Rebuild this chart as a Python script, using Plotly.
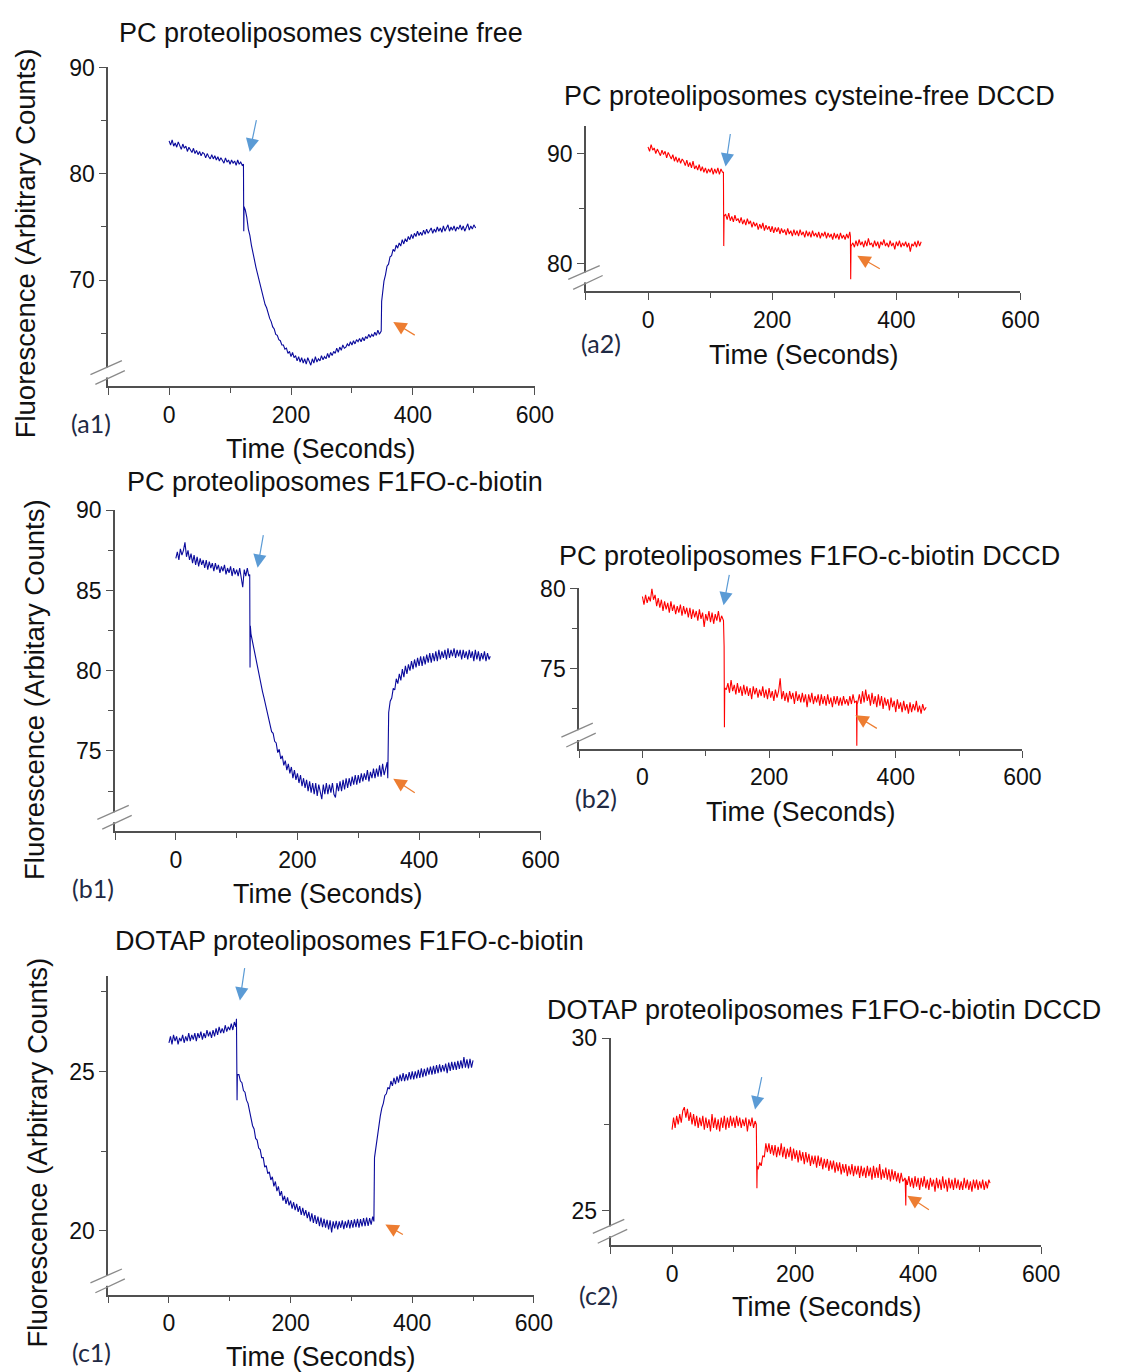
import plotly.graph_objects as go

# ---------------- DATA ----------------
STEP = 2.5  # sampling step (s) of the listed segment values

# (a1) PC proteoliposomes cysteine free
A1_STARTS = [0, 125, 350]
A1_SEG1 = [83.1, 82.7, 83.2, 82.6, 82.9, 82.5, 83.0, 82.7, 82.3, 82.8, 82.4, 82.6, 82.1, 82.5, 82.2, 82.0,
           82.4, 81.9, 82.2, 81.8, 82.1, 81.7, 82.0, 81.9, 81.5, 81.9, 81.6, 81.4, 81.8, 81.4, 81.7, 81.3,
           81.6, 81.2, 81.5, 81.3, 81.0, 81.5, 81.1, 81.3, 80.9, 81.3, 81.0, 81.2, 80.8, 81.3, 80.9, 81.1,
           80.8]
A1_SEG2 = [76.6, 75.9, 74.8, 74.2, 73.3, 72.5, 71.9, 71.2, 70.6, 70.0, 69.3, 68.9, 68.3, 67.7, 67.4, 66.8,
           66.4, 66.1, 65.6, 65.4, 64.9, 64.8, 64.4, 64.3, 63.9, 63.9, 63.5, 63.6, 63.1, 63.3, 62.8, 63.2,
           62.7, 62.9, 62.4, 62.8, 62.3, 62.7, 62.2, 62.6, 62.1, 62.7, 62.3, 62.0, 62.6, 62.2, 62.8, 62.3,
           62.6, 62.4, 62.9, 62.5, 62.8, 62.6, 63.1, 62.7, 63.2, 62.9, 63.3, 63.1, 63.6, 63.2, 63.7, 63.4,
           63.9, 63.6, 63.7, 64.0, 63.8, 64.2, 63.9, 64.3, 64.0, 64.4, 64.2, 64.5, 64.2, 64.6, 64.3, 64.7,
           64.5, 64.9, 64.6, 64.9, 64.7, 65.1, 64.8, 65.3, 64.9]
A1_SEG3 = [68.9, 69.9, 70.5, 71.3, 71.5, 72.2, 72.3, 72.9, 72.7, 73.3, 73.0, 73.5, 73.2, 73.8, 73.4, 73.9,
           73.6, 74.1, 73.8, 74.3, 73.9, 74.4, 74.1, 74.6, 74.2, 74.5, 74.2, 74.7, 74.3, 74.8, 74.4, 74.6,
           74.9, 74.4, 74.8, 74.5, 75.0, 74.6, 74.9, 74.5, 75.1, 74.6, 74.9, 75.2, 74.6, 75.0, 74.7, 75.1,
           74.6, 75.0, 74.8, 75.2, 74.7, 75.1, 74.6, 75.0, 75.3, 74.7, 75.1, 74.8, 75.2]
A1_EV_T = [[122, 122.5, 123], [348, 348.7], [503]]
A1_EV_V = [[80.9, 74.6, 76.9], [65.2, 68.0], [74.9]]

# (a2) PC proteoliposomes cysteine-free DCCD
A2_STARTS = [0, 125, 330]
A2_SEG1 = [90.6, 90.2, 90.8, 90.3, 90.5, 90.0, 90.4, 90.1, 89.8, 90.3, 89.9, 90.2, 89.6, 90.1, 89.7, 89.5,
           89.9, 89.3, 89.7, 89.2, 89.6, 89.1, 89.5, 89.3, 88.9, 89.4, 88.8, 89.2, 88.7, 89.3, 88.6, 88.9,
           88.5, 89.0, 88.4, 88.8, 88.3, 88.7, 88.2, 88.6, 88.3, 88.7, 88.1, 88.6, 88.2, 88.7, 88.1, 88.6,
           88.3]
A2_SEG2 = [84.5, 84.0, 84.6, 83.9, 84.3, 83.8, 84.4, 83.9, 84.1, 83.7, 84.2, 83.6, 84.0, 83.5, 84.1, 83.6,
           83.9, 83.3, 83.8, 83.4, 83.7, 83.1, 83.6, 83.2, 83.7, 83.0, 83.5, 83.1, 83.4, 82.9, 83.4, 82.8,
           83.3, 82.9, 83.3, 82.7, 83.2, 82.8, 83.1, 82.6, 83.2, 82.7, 83.0, 82.5, 83.1, 82.6, 83.0, 82.5,
           83.1, 82.6, 82.9, 82.4, 83.0, 82.5, 82.9, 82.4, 83.0, 82.5, 82.8, 82.4, 82.9, 82.3, 82.8, 82.5,
           82.9, 82.3, 82.8, 82.4, 82.7, 82.2, 82.8, 82.3, 82.7, 82.2, 82.8, 82.3, 82.6, 82.2, 82.7, 82.3,
           82.9]
A2_SEG3 = [81.9, 81.5, 82.1, 81.6, 82.2, 81.7, 82.0, 81.5, 82.1, 81.6, 82.3, 81.7, 81.9, 81.5, 82.1, 81.6,
           82.0, 81.4, 82.0, 81.7, 82.2, 81.6, 81.9, 81.5, 82.1, 81.6, 81.9, 81.3, 82.0, 81.6, 82.1, 81.5,
           81.9, 81.6, 82.0, 81.5, 81.9, 81.1, 81.8, 81.6, 82.0, 81.5, 82.1, 81.6, 82.0]
A2_EV_T = [[121.5, 122, 122.5], [326, 326.5, 327], []]
A2_EV_V = [[88.3, 81.6, 84.3], [82.5, 78.6, 81.6], []]

# (b1) PC proteoliposomes F1FO-c-biotin
B1_STARTS = [0, 125, 350]
B1_SEG1 = [87.0, 87.4, 86.9, 87.6, 87.2, 87.5, 88.0, 87.1, 87.5, 86.9, 87.3, 86.7, 87.2, 86.6, 87.1, 86.5,
           87.0, 86.6, 86.9, 86.4, 86.9, 86.3, 86.8, 86.4, 86.7, 86.2, 86.7, 86.3, 86.6, 86.1, 86.5, 86.2,
           86.6, 86.0, 86.4, 86.1, 86.5, 85.9, 86.4, 86.0, 86.3, 85.9, 86.4, 85.8, 85.2, 86.3, 85.9, 86.4,
           85.9]
B1_SEG2 = [82.0, 81.7, 81.1, 80.6, 80.0, 79.6, 79.1, 78.7, 78.3, 77.9, 77.5, 77.0, 76.8, 76.2, 76.1, 75.6,
           75.5, 74.9, 75.1, 74.5, 74.7, 74.1, 74.4, 73.8, 74.2, 73.6, 74.0, 73.3, 73.8, 73.2, 73.6, 73.0,
           73.5, 72.8, 73.3, 72.7, 73.2, 72.5, 73.1, 72.4, 73.0, 72.3, 73.0, 72.2, 72.9, 72.4, 72.0, 72.9,
           72.3, 73.0, 72.3, 72.9, 72.4, 73.0, 72.3, 72.1, 73.0, 72.5, 73.1, 72.5, 73.2, 72.6, 73.3, 72.7,
           73.3, 72.8, 73.4, 72.9, 73.5, 72.9, 73.5, 73.0, 73.6, 73.1, 73.6, 73.2, 73.8, 73.1, 73.7, 73.3,
           73.9, 73.3, 73.9, 73.4, 74.1, 73.4, 74.2, 73.5, 74.0]
B1_SEG3 = [77.4, 78.1, 78.3, 78.9, 78.8, 79.5, 79.2, 79.8, 79.4, 80.1, 79.6, 80.3, 79.8, 80.4, 80.0, 80.6,
           80.1, 80.7, 80.2, 80.8, 80.3, 80.9, 80.3, 80.9, 80.4, 81.0, 80.5, 81.1, 80.5, 81.1, 80.6, 81.2,
           80.6, 81.3, 80.7, 81.2, 80.8, 81.3, 80.7, 81.4, 80.8, 81.3, 80.9, 81.4, 80.8, 81.3, 80.9, 81.3,
           80.7, 81.3, 80.8, 81.2, 80.7, 81.3, 80.8, 81.2, 80.6, 81.3, 80.7, 81.2, 80.6, 81.1, 80.7, 81.2,
           80.6, 81.1, 80.7]
B1_EV_T = [[121.5, 122, 122.5, 123.5], [347.5, 348.5, 349], [517]]
B1_EV_V = [[86.0, 80.2, 82.8, 82.3], [74.3, 73.3, 77.0], [80.9]]

# (b2) PC proteoliposomes F1FO-c-biotin DCCD
B2_STARTS = [0, 132.5, 340]
B2_SEG1 = [79.5, 79.0, 79.6, 79.1, 79.5, 79.2, 80.0, 79.3, 79.6, 78.9, 79.4, 78.8, 79.3, 78.6, 79.2, 78.7,
           79.1, 78.5, 79.2, 78.6, 79.0, 78.4, 78.9, 78.5, 79.0, 78.3, 78.9, 78.4, 78.8, 78.2, 78.8, 78.1,
           78.7, 78.2, 78.6, 78.0, 78.7, 78.1, 78.5, 77.6, 78.4, 78.0, 78.6, 77.9, 78.5, 77.8, 78.4, 78.0,
           78.6, 77.9, 78.3]
B2_SEG2 = [73.7, 74.1, 73.5, 74.3, 73.6, 74.0, 73.4, 74.1, 73.5, 73.9, 73.3, 74.0, 73.4, 73.9, 73.3, 73.8,
           73.1, 73.9, 73.4, 73.8, 73.2, 73.7, 73.3, 73.9, 73.2, 73.7, 73.1, 73.8, 73.2, 73.6, 73.0, 73.7,
           73.2, 73.6, 74.4, 73.1, 73.6, 73.0, 73.5, 72.9, 73.6, 73.1, 73.5, 72.8, 73.6, 73.0, 73.4, 72.9,
           73.5, 72.9, 73.4, 72.6, 73.4, 72.9, 73.5, 72.8, 73.3, 72.9, 73.4, 72.7, 73.4, 72.8, 73.3, 72.7,
           73.4, 72.8, 73.2, 72.6, 73.3, 72.8, 73.3, 72.7, 73.2, 72.7, 73.3, 72.8, 73.1, 72.7, 73.3, 72.8,
           73.4, 72.9]
B2_SEG3 = [72.9, 73.4, 72.8, 73.6, 72.9, 73.7, 73.0, 73.4, 72.7, 73.5, 72.8, 73.3, 72.6, 73.4, 72.7, 73.3,
           72.5, 73.2, 72.7, 73.1, 72.4, 73.2, 72.6, 73.0, 72.3, 73.1, 72.5, 72.9, 72.3, 73.0, 72.4, 72.8,
           72.2, 72.9, 72.3, 72.8, 72.4, 73.0, 72.3, 72.7, 72.2, 72.8, 72.4]
B2_EV_T = [[128, 129, 129.5, 130], [338, 338.5, 339], [448]]
B2_EV_V = [[78.0, 76.4, 71.35, 73.8], [73.0, 70.2, 72.8], [72.6]]

# (c1) DOTAP proteoliposomes F1FO-c-biotin
C1_STARTS = [0, 115, 340]
C1_SEG1 = [25.9, 26.1, 25.85, 26.15, 25.95, 26.1, 25.85, 26.05, 25.95, 26.15, 25.9, 26.1, 25.95, 26.2,
           25.95, 26.15, 26.0, 26.2, 25.95, 26.2, 26.05, 26.25, 26.0, 26.2, 26.05, 26.3, 26.1, 26.25,
           26.05, 26.3, 26.1, 26.35, 26.15, 26.4, 26.2, 26.35, 26.2, 26.45, 26.25, 26.4, 26.3, 26.5,
           26.3, 26.55, 26.4]
C1_SEG2 = [24.9, 24.7, 24.65, 24.4, 24.35, 24.1, 24.0, 23.75, 23.6, 23.3, 23.2, 22.9, 22.85, 22.6, 22.55,
           22.3, 22.3, 22.0, 22.05, 21.8, 21.85, 21.6, 21.7, 21.4, 21.55, 21.25, 21.4, 21.1, 21.25, 20.95,
           21.1, 20.85, 21.05, 20.8, 20.95, 20.7, 20.9, 20.65, 20.85, 20.6, 20.78, 20.5, 20.72, 20.48,
           20.65, 20.4, 20.6, 20.3, 20.55, 20.25, 20.5, 20.22, 20.45, 20.15, 20.42, 20.12, 20.38, 20.1,
           20.35, 20.05, 20.33, 19.95, 20.3, 20.08, 20.32, 20.05, 20.3, 20.1, 20.33, 20.06, 20.3, 20.1,
           20.35, 20.08, 20.34, 20.1, 20.36, 20.12, 20.38, 20.1, 20.37, 20.14, 20.4, 20.15, 20.42, 20.16,
           20.4, 20.2, 20.45]
C1_SEG3 = [22.6, 23.0, 23.35, 23.6, 23.85, 24.0, 24.25, 24.3, 24.5, 24.45, 24.7, 24.55, 24.8, 24.6, 24.85,
           24.65, 24.9, 24.7, 24.95, 24.7, 24.92, 24.72, 24.98, 24.75, 25.0, 24.75, 25.0, 24.78, 25.05,
           24.8, 25.1, 24.82, 25.08, 24.85, 25.12, 24.9, 25.15, 24.9, 25.18, 24.92, 25.2, 24.95, 25.22,
           24.98, 25.2, 25.0, 25.25, 24.95, 25.28, 25.02, 25.3, 25.05, 25.3, 25.05, 25.33, 25.08, 25.35,
           25.1, 25.45, 25.12, 25.38, 25.1, 25.4, 25.12, 25.35]
C1_EV_T = [[111, 112, 112.5], [337, 338], []]
C1_EV_V = [[26.65, 24.1, 24.9], [20.3, 22.3], []]

# (c2) DOTAP proteoliposomes F1FO-c-biotin DCCD
C2_STARTS = [0, 140, 382.5]
C2_SEG1 = [27.35, 27.7, 27.4, 27.75, 27.5, 27.8, 27.55, 27.9, 28.0, 27.7, 27.95, 27.6, 27.85, 27.5, 27.8,
           27.45, 27.75, 27.4, 27.7, 27.45, 27.75, 27.35, 27.7, 27.4, 27.65, 27.3, 27.8, 27.4, 27.7,
           27.35, 27.65, 27.3, 27.7, 27.4, 27.75, 27.35, 27.7, 27.4, 27.75, 27.45, 27.7, 27.4, 27.75,
           27.45, 27.7, 27.4, 27.65, 27.45, 27.7, 27.3, 27.65, 27.45, 27.7, 27.4, 27.6]
C2_SEG2 = [26.2, 26.4, 26.3, 26.6, 26.55, 26.95, 26.7, 26.95, 26.65, 26.9, 26.6, 26.9, 26.55, 26.85, 26.6,
           26.95, 26.55, 26.85, 26.5, 26.8, 26.55, 26.85, 26.45, 26.8, 26.5, 26.75, 26.4, 26.75, 26.45,
           26.7, 26.35, 26.7, 26.4, 26.65, 26.3, 26.6, 26.35, 26.6, 26.25, 26.6, 26.3, 26.55, 26.2, 26.5,
           26.25, 26.5, 26.15, 26.45, 26.2, 26.45, 26.1, 26.4, 26.15, 26.4, 26.05, 26.35, 26.1, 26.35,
           26.0, 26.3, 26.05, 26.35, 26.0, 26.3, 26.05, 26.3, 25.95, 26.3, 26.0, 26.25, 25.95, 26.3, 26.0,
           26.25, 25.9, 26.3, 25.95, 26.25, 25.95, 26.35, 25.9, 26.2, 25.95, 26.25, 25.9, 26.2, 25.85,
           26.2, 25.9, 26.15, 25.85, 26.1, 25.8, 26.1, 25.85]
C2_SEG3 = [25.75, 26.0, 25.7, 25.95, 25.65, 26.0, 25.7, 25.95, 25.6, 25.95, 25.7, 26.0, 25.65, 25.9, 25.6,
           25.95, 25.7, 25.9, 25.55, 25.95, 25.65, 25.9, 25.6, 26.0, 25.65, 25.9, 25.55, 25.95, 25.65,
           25.9, 25.6, 25.95, 25.65, 25.9, 25.6, 25.85, 25.6, 25.95, 25.65, 25.9, 25.6, 25.85, 25.55,
           25.9, 25.65, 25.9, 25.6, 25.85, 25.65, 25.9, 25.6, 25.85, 25.65, 25.9]
C2_EV_T = [[137, 138, 138.5], [379, 380, 380.5], [517]]
C2_EV_V = [[27.5, 25.65, 26.3], [25.95, 25.15, 25.9], [25.8]]

TITLES = ["PC proteoliposomes cysteine free", "PC proteoliposomes cysteine-free DCCD",
          "PC proteoliposomes F1FO-c-biotin", "PC proteoliposomes F1FO-c-biotin DCCD",
          "DOTAP proteoliposomes F1FO-c-biotin", "DOTAP proteoliposomes F1FO-c-biotin DCCD"]
LABELS = ["(a1)", "(a2)", "(b1)", "(b2)", "(c1)", "(c2)"]
X_TITLE = "Time (Seconds)"
Y_TITLES = ["Fluorescence (Arbitrary Counts)", "Fluorescence (Arbitary Counts)",
            "Fluorescence (Arbitrary Counts)"]
X_TICKS = [-100, 0, 200, 400, 600]
X_TICKTEXT = ["", "0", "200", "400", "600"]
X_MINOR = [100, 300, 500]


def build(starts, segs, ev_t, ev_v):
    t, v = [], []
    for k, (s, seg) in enumerate(zip(starts, segs)):
        t += [s + STEP * i for i in range(len(seg))]
        v += seg
        t += ev_t[k]
        v += ev_v[k]
    return t, v


# ---------------- LAYOUT ----------------
W, H = 1126, 1372
FONT = "Liberation Sans, Arial, sans-serif"
BLUE = "#0B0B9C"
RED = "#FF0000"
AXC = "#505050"
ARROW_BLUE = "#5B9BD5"
ARROW_ORANGE = "#ED7D31"
LABEL_C = "#1F2A44"

panels = [
    dict(data=build(A1_STARTS, [A1_SEG1, A1_SEG2, A1_SEG3], A1_EV_T, A1_EV_V), color=BLUE,
         x0=110, x1=544, yt=55, yb=377, yr=[60, 90], ymaj=[70, 80, 90], ymin=[65, 75, 85],
         title=(327, 20), xt=(327, 440), lab=(93, 414),
         blue=(254, 140, 7, -33), orange=(400, 312, 23, 14)),
    dict(data=build(A2_STARTS, [A2_SEG1, A2_SEG2, A2_SEG3], A2_EV_T, A2_EV_V), color=RED,
         x0=596, x1=1038, yt=114, yb=281, yr=[77.5, 92.5], ymaj=[80, 90], ymin=[85],
         title=(823, 84), xt=(818, 345), lab=(611, 333),
         blue=(738, 155, 5, -34), orange=(872, 245, 24, 14)),
    dict(data=build(B1_STARTS, [B1_SEG1, B1_SEG2, B1_SEG3], B1_EV_T, B1_EV_V), color=BLUE,
         x0=117, x1=550, yt=502, yb=826, yr=[70, 90], ymaj=[75, 80, 85, 90], ymin=[72.5, 77.5, 82.5, 87.5],
         title=(341, 473), xt=(334, 889), lab=(95, 883),
         blue=(262, 560, 6, -34), orange=(400, 773, 23, 15)),
    dict(data=build(B2_STARTS, [B2_SEG1, B2_SEG2, B2_SEG3], B2_EV_T, B2_EV_V), color=RED,
         x0=589, x1=1040, yt=581, yb=743, yr=[70, 80], ymaj=[75, 80], ymin=[72.5, 77.5],
         title=(823, 548), xt=(815, 807), lab=(606, 793),
         blue=(736, 598, 6, -32), orange=(870, 709, 23, 14)),
    dict(data=build(C1_STARTS, [C1_SEG1, C1_SEG2, C1_SEG3], C1_EV_T, C1_EV_V), color=BLUE,
         x0=110, x1=543, yt=972, yb=1294, yr=[18, 28], ymaj=[20, 25], ymin=[22.5, 27.5],
         title=(355, 937), xt=(327, 1357), lab=(93, 1352),
         blue=(244, 997, 5, -34), orange=(392, 1223, 19, 11)),
    dict(data=build(C2_STARTS, [C2_SEG1, C2_SEG2, C2_SEG3], C2_EV_T, C2_EV_V), color=RED,
         x0=621, x1=1059, yt=1035, yb=1244, yr=[24, 30], ymaj=[25, 30], ymin=[27.5],
         title=(838, 1007), xt=(841, 1306), lab=(609, 1294),
         blue=(768, 1107, 7, -34), orange=(923, 1194, 23, 15)),
]
YT_POS = [(26, 233), (35, 683), (38, 1150)]


def px(x):
    return x / W


def py(y):
    return 1 - y / H


fig = go.Figure()
layout = dict(width=W, height=H, margin=dict(l=0, r=0, t=0, b=0),
              paper_bgcolor="white", plot_bgcolor="white", showlegend=False)
annotations = []
shapes = []

for i, p in enumerate(panels):
    n = "" if i == 0 else str(i + 1)
    t, v = p["data"]
    fig.add_trace(go.Scatter(x=t, y=v, mode="lines", line=dict(color=p["color"], width=1.1),
                             xaxis="x" + n, yaxis="y" + n, hoverinfo="skip"))
    layout["xaxis" + n] = dict(
        domain=[px(p["x0"]), px(p["x1"])], anchor="y" + n, range=[-100, 600],
        showline=True, linecolor=AXC, linewidth=1.5, showgrid=False, zeroline=False,
        ticks="outside", ticklen=7, tickwidth=1.3, tickcolor=AXC,
        tickmode="array", tickvals=X_TICKS, ticktext=X_TICKTEXT,
        tickfont=dict(family=FONT, size=23, color="#111"),
        minor=dict(tickvals=X_MINOR, ticks="outside", ticklen=5, tickwidth=1.2, tickcolor=AXC),
    )
    layout["yaxis" + n] = dict(
        domain=[py(p["yb"]), py(p["yt"])], anchor="x" + n, range=p["yr"],
        showline=True, linecolor=AXC, linewidth=1.5, showgrid=False, zeroline=False,
        ticks="outside", ticklen=7, tickwidth=1.3, tickcolor=AXC,
        tickmode="array", tickvals=p["ymaj"],
        tickfont=dict(family=FONT, size=23, color="#111"),
        minor=dict(tickvals=p["ymin"], ticks="outside", ticklen=5, tickwidth=1.2, tickcolor=AXC),
    )
    annotations.append(dict(text=TITLES[i], x=px(p["title"][0]), y=py(p["title"][1]),
                            xref="paper", yref="paper", xanchor="center", yanchor="middle",
                            showarrow=False, font=dict(family=FONT, size=27, color="#111")))
    annotations.append(dict(text=X_TITLE, x=px(p["xt"][0]), y=py(p["xt"][1]),
                            xref="paper", yref="paper", xanchor="center", yanchor="middle",
                            showarrow=False, font=dict(family=FONT, size=27, color="#111")))
    annotations.append(dict(text=LABELS[i], x=px(p["lab"][0]), y=py(p["lab"][1]),
                            xref="paper", yref="paper", xanchor="center", yanchor="middle",
                            showarrow=False, font=dict(family="Lato, Carlito, sans-serif", size=25, color=LABEL_C)))
    for key, col in (("blue", ARROW_BLUE), ("orange", ARROW_ORANGE)):
        tx, ty, ax, ay = p[key]
        annotations.append(dict(text="", x=px(tx), y=py(ty), xref="paper", yref="paper",
                                ax=ax, ay=ay, axref="pixel", ayref="pixel", showarrow=True,
                                arrowhead=2, arrowsize=2.2, arrowwidth=1.2, arrowcolor=col,
                                standoff=0))
    xa, yb = p["x0"], p["yb"]
    shapes.append(dict(type="rect", xref="paper", yref="paper",
                       x0=px(xa - 3), x1=px(xa + 3), y0=py(yb - 9), y1=py(yb - 19),
                       fillcolor="white", line=dict(width=0)))
    for (a, b, c, d) in ((xa - 18, yb - 12, xa + 14, yb - 26), (xa - 13, yb - 2, xa + 17, yb - 16)):
        shapes.append(dict(type="line", xref="paper", yref="paper",
                           x0=px(a), y0=py(b), x1=px(c), y1=py(d),
                           line=dict(color="#8a8a8a", width=1.3)))

for txt, (x, y) in zip(Y_TITLES, YT_POS):
    annotations.append(dict(text=txt, x=px(x), y=py(y), xref="paper", yref="paper",
                            xanchor="center", yanchor="middle", textangle=-90, showarrow=False,
                            font=dict(family=FONT, size=27.5, color="#111")))

layout["annotations"] = annotations
layout["shapes"] = shapes
fig.update_layout(**layout)
fig.write_html("out.html")
